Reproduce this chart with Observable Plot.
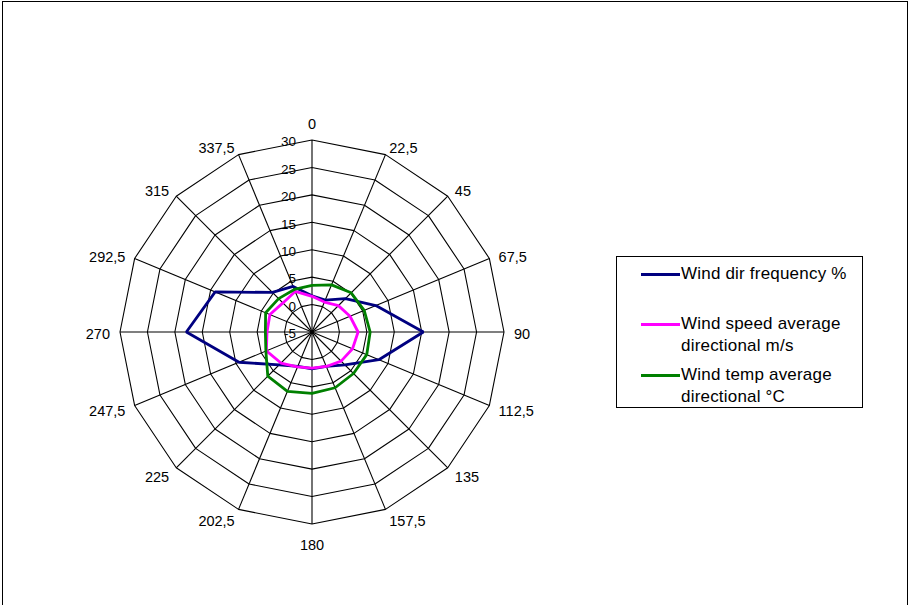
<!DOCTYPE html>
<html>
<head>
<meta charset="utf-8">
<script src="https://cdn.jsdelivr.net/npm/d3@7"></script>
<script src="https://cdn.jsdelivr.net/npm/@observablehq/plot@0.6"></script>
<style>
  body { margin: 0; background: #fff; font-family: "Liberation Sans", Arial, sans-serif; }
  #wrap { position: relative; width: 911px; height: 605px; overflow: hidden; background: #fff; }
  #frame { position: absolute; left: 2px; top: 1px; width: 906px; height: 640px; border: 1px solid #000; box-sizing: border-box; pointer-events: none; }
  #chart { position: absolute; left: 0; top: 0; }
  #legend { position: absolute; left: 616px; top: 256px; width: 247px; height: 152px; border: 1px solid #000; box-sizing: border-box; background: #fff; font-size: 17px; color: #000; }
  .swatch { position: absolute; left: 24px; width: 39px; height: 0; border-top: 3px solid; }
  .label { position: absolute; left: 64px; white-space: nowrap; line-height: 22px; letter-spacing: 0.2px; }
</style>
</head>
<body>
<div id="wrap">
  <div id="chart"></div>
  <div id="legend"></div>
  <div id="frame"></div>
</div>
<script>
// Compass sectors (degrees, clockwise from north) and their labels
const directions = [0, 22.5, 45, 67.5, 90, 112.5, 135, 157.5, 180, 202.5, 225, 247.5, 270, 292.5, 315, 337.5];
const directionLabels = ["0", "22,5", "45", "67,5", "90", "112,5", "135", "157,5", "180", "202,5", "225", "247,5", "270", "292,5", "315", "337,5"];

// Series values per sector
const windFrequency = [1.6, 1.3, 3.6, 7.6, 15.3, 8.2, 3.5, 1.8, 1.7, 1.8, 3.5, 9.4, 17.9, 14.1, 5.2, 4.0];
const windSpeed     = [1.5, 0.9, 1.8, 2.5, 3.4, 3.0, 2.5, 1.8, 1.6, 1.9, 3.0, 4.0, 3.2, 3.3, 2.5, 3.0];
const windTemp      = [3.5, 4.3, 5.1, 5.3, 5.6, 5.8, 5.7, 6.0, 6.2, 6.7, 6.4, 4.1, 3.5, 4.15, 3.6, 3.4];

// Radial value axis
const radialTicks = [-5, 0, 5, 10, 15, 20, 25, 30];
const radialTickLabels = ["-5", "0", "5", "10", "15", "20", "25", "30"];

const seriesNames = ["Wind dir frequency %", "Wind speed average directional m/s", "Wind temp average directional °C"];
const seriesColors = ["#000080", "#ff00ff", "#008000"];

// ---- geometry ----
const W = 911, H = 605;
const cx = 311.5, cy = 331.5;        // pixel position of the pole
const outerPx = 192;                 // pixel radius of the outermost ring
const rMin = radialTicks[0], rMax = radialTicks[radialTicks.length - 1];
const k = outerPx / (rMax - rMin);   // pixels per unit

// polar -> cartesian in value units (pole = 0,0)
const rad = d => d * Math.PI / 180;
const px = (v, a) => (v - rMin) * Math.sin(rad(a));
const py = (v, a) => (v - rMin) * Math.cos(rad(a));

// grid rings (closed polygons)
const rings = [];
for (const t of radialTicks.slice(1)) {
  for (const a of [...directions, directions[0]]) rings.push({ring: t, x: px(t, a), y: py(t, a)});
}
// spokes
const spokes = directions.map(a => ({x1: 0, y1: 0, x2: px(rMax, a), y2: py(rMax, a)}));

// series polygons
const seriesData = [];
[windFrequency, windSpeed, windTemp].forEach((vals, i) => {
  [...directions, directions[0]].forEach((a, j) => {
    const v = vals[j % directions.length];
    seriesData.push({series: seriesNames[i], x: px(v, a), y: py(v, a)});
  });
});

// direction labels just outside the outer ring
const dirLabelData = directions.map((a, i) => {
  const s = Math.sin(rad(a)), c = Math.cos(rad(a));
  const extra = Math.abs(s) < 0.01 ? (c > 0 ? 8.5 : 9) : 0;
  const r = (rMax - rMin) + (10 + extra) / k;
  return {
    text: directionLabels[i],
    x: r * s, y: r * c,
    anchor: s > 0.01 ? "start" : s < -0.01 ? "end" : "middle"
  };
});

const tickLabelData = radialTicks.map((t, i) => ({text: radialTickLabels[i], x: 0, y: t - rMin}));

const dirText = anchor => Plot.text(dirLabelData.filter(d => d.anchor === anchor), {
  x: "x", y: "y", text: "text", textAnchor: anchor, dy: 2.5, fontSize: 14.5, fill: "#000"
});

const chart = Plot.plot({
  width: W,
  height: H,
  margin: 0,
  style: {background: "transparent", fontFamily: "'Liberation Sans', Arial, sans-serif", color: "#000"},
  x: {domain: [-cx / k, (W - cx) / k], range: [0, W], axis: null},
  y: {domain: [-(H - cy) / k, cy / k], range: [H, 0], axis: null},
  color: {domain: seriesNames, range: seriesColors},
  marks: [
    Plot.line(rings, {x: "x", y: "y", z: "ring", stroke: "#000", strokeWidth: 1.1, curve: "linear"}),
    Plot.link(spokes, {x1: "x1", y1: "y1", x2: "x2", y2: "y2", stroke: "#000", strokeWidth: 1.1}),
    Plot.text(tickLabelData, {x: "x", y: "y", text: "text", textAnchor: "end", dx: -16, dy: 2, fontSize: 13.5, fill: "#000"}),
    dirText("start"),
    dirText("end"),
    dirText("middle"),
    Plot.line(seriesData, {x: "x", y: "y", z: "series", stroke: "series", strokeWidth: 2.8, strokeLinejoin: "miter", curve: "linear"})
  ]
});
document.getElementById("chart").appendChild(chart);

// legend box
const legendLines = [
  ["Wind dir frequency %"],
  ["Wind speed average", "directional m/s"],
  ["Wind temp average", "directional °C"]
];
const legendTops = [17, 67, 118];
const legend = document.getElementById("legend");
legendLines.forEach((lines, i) => {
  const sw = document.createElement("div");
  sw.className = "swatch";
  sw.style.top = (legendTops[i] - 1) + "px";
  sw.style.borderTopColor = seriesColors[i];
  legend.appendChild(sw);
  const lab = document.createElement("div");
  lab.className = "label";
  lab.style.top = (legendTops[i] - 11) + "px";
  lab.innerHTML = lines.join("<br>");
  legend.appendChild(lab);
});
</script>
</body>
</html>
